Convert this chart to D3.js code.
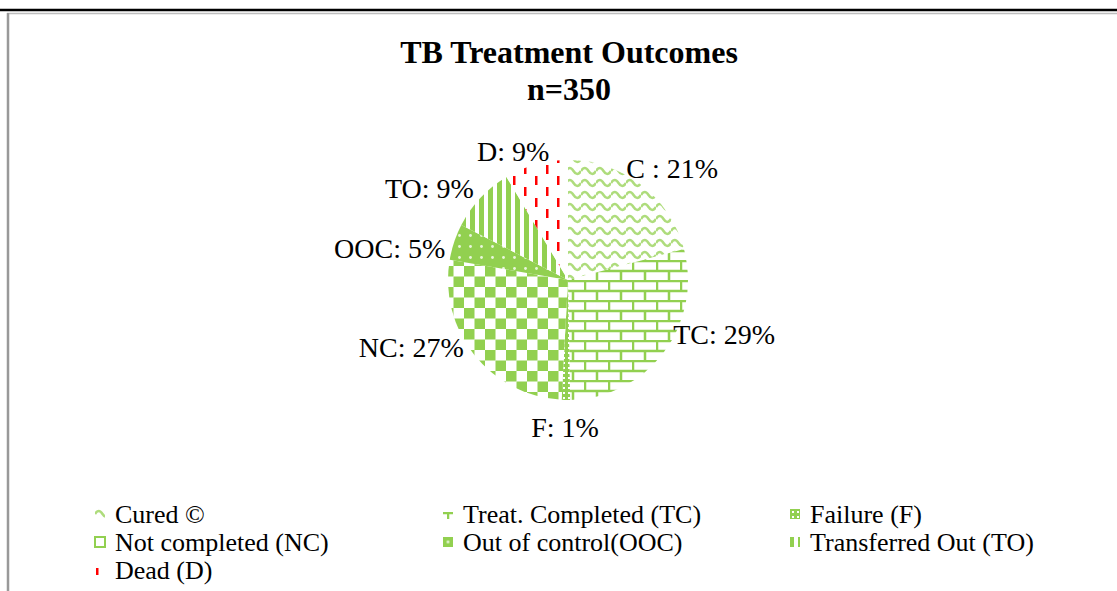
<!DOCTYPE html>
<html>
<head>
<meta charset="utf-8">
<script src="https://cdn.jsdelivr.net/npm/d3@7"></script>
<style>
  body { margin: 0; background: #fff; }
  text { font-family: "Liberation Serif", "Times New Roman", serif; }
</style>
</head>
<body>
<div id="chart"></div>
<script>
// TB treatment outcomes, n = 350
var categories = ["Cured ©", "Treat. Completed (TC)", "Failure (F)", "Not completed (NC)",
                  "Out of control(OOC)", "Transferred Out (TO)", "Dead (D)"];
var shortNames = ["C ", "TC", "F", "NC", "OOC", "TO", "D"];
var counts = [73, 101, 4, 94, 17, 31, 30];
var total = 350;

var width = 1117,
    height = 591;

var cx = 568, cy = 280, radius = 120;
var green = "#92d050", red = "#ff0000";

// fill pattern per slice, plus how the legend swatch lines up with it
var patternTypes = ["wave", "brick", "dots", "checker", "spots", "stripes", "dashes"];
var legendShift = [[0, -2], [4, 3], [0, 0], [0, 0], [-0.5, -0.5], [-1, 0], [-3, 2]];
// label tweaks: angle nudge in degrees and distance from the rim (Excel moved a few)
var labelNudge = [0, -13, 0, 10, -6, -5, -5];
var labelGap = [5, 0, 12, 6, 7, 12, 1];

var svg = d3.select("#chart").append("svg")
    .attr("width", width)
    .attr("height", height);

// page frame bits
svg.append("line").attr("x1", 0).attr("x2", width).attr("y1", 10).attr("y2", 10)
    .attr("stroke", "#000").attr("stroke-width", 2.5);
svg.append("line").attr("x1", 7).attr("x2", width).attr("y1", 13.5).attr("y2", 13.5)
    .attr("stroke", "#bdbdbd").attr("stroke-width", 1.5);
svg.append("line").attr("x1", 8).attr("x2", 8).attr("y1", 13).attr("y2", height)
    .attr("stroke", "#999").attr("stroke-width", 2.5);

var defs = svg.append("defs");

function makePattern(id, type, tx, ty) {
    var sizes = { wave: [15, 12], brick: [24, 20], dots: [5, 5], checker: [21, 21],
                  spots: [11, 11], stripes: [9, 9], dashes: [22, 22] };
    var w = sizes[type][0], h = sizes[type][1];
    var p = defs.append("pattern")
        .attr("id", id)
        .attr("patternUnits", "userSpaceOnUse")
        .attr("width", w).attr("height", h)
        .attr("patternTransform", "translate(" + tx + "," + ty + ")");

    var bg = (type == "dots" || type == "spots") ? green : "#fff";
    p.append("rect").attr("width", w).attr("height", h).attr("fill", bg);

    if (type == "wave") {
        p.append("path").attr("d", "M0,7 Q3.75,1 7.5,7 T15,7")
            .attr("fill", "none").attr("stroke", green)
            .attr("stroke-opacity", 0.75).attr("stroke-width", 2.5);
    } else if (type == "brick") {
        p.append("path").attr("d", "M0,1 H24 M0,11 H24 M1,1 V11 M13,11 V21")
            .attr("fill", "none").attr("stroke", green).attr("stroke-width", 2.5);
    } else if (type == "dots") {
        p.append("rect").attr("x", 2).attr("y", 2).attr("width", 2).attr("height", 2).attr("fill", "#fff");
    } else if (type == "checker") {
        p.append("rect").attr("width", 10.5).attr("height", 10.5).attr("fill", green);
        p.append("rect").attr("x", 10.5).attr("y", 10.5).attr("width", 10.5).attr("height", 10.5).attr("fill", green);
    } else if (type == "spots") {
        p.append("circle").attr("cx", 5.5).attr("cy", 5.5).attr("r", 1.4)
            .attr("fill", "#fff").attr("fill-opacity", 0.8);
    } else if (type == "stripes") {
        p.append("rect").attr("width", 5).attr("height", 9).attr("fill", green);
    } else if (type == "dashes") {
        p.append("rect").attr("x", 4).attr("y", 1).attr("width", 2.5).attr("height", 9).attr("fill", red);
        p.append("rect").attr("x", 15).attr("y", 12).attr("width", 2.5).attr("height", 9).attr("fill", red);
    }
    return "url(#" + id + ")";
}

// title
var title = svg.append("text")
    .attr("text-anchor", "middle")
    .attr("font-weight", "bold").attr("font-size", 32);
title.append("tspan").attr("x", 569).attr("y", 63).text("TB Treatment Outcomes");
title.append("tspan").attr("x", 569).attr("y", 100).text("n=" + total);

// pie
var pie = d3.pie().sort(null).value(function(d) { return d; });
var arcs = pie(counts);

var arc = d3.arc().innerRadius(0).outerRadius(radius);

var g = svg.append("g").attr("transform", "translate(" + cx + "," + cy + ")");

var sliceFills = patternTypes.map(function(t, i) {
    return makePattern("pie-" + i, t, cx, cy);
});

g.selectAll("path.slice")
    .data(arcs)
  .enter().append("path")
    .attr("class", "slice")
    .attr("d", arc)
    .attr("fill", function(d, i) { return sliceFills[i]; });

// data labels, outside end of each slice
var fontSize = 28;
g.selectAll("text.lbl")
    .data(arcs)
  .enter().append("text")
    .attr("class", "lbl")
    .attr("font-size", fontSize)
    .attr("text-anchor", "middle")
    .text(function(d, i) { return shortNames[i] + ": " + Math.round(d.value / total * 100) + "%"; })
    .each(function(d, i) {
        var a = (d.startAngle + d.endAngle) / 2 + labelNudge[i] * Math.PI / 180;
        var dx = Math.sin(a), dy = -Math.cos(a);
        var w = this.getComputedTextLength(), h = fontSize * 1.1;
        var r = radius + labelGap[i];
        var px = r * dx + dx * w / 2;
        var py = r * dy + dy * h / 2;
        d3.select(this).attr("x", px).attr("y", py + fontSize * 0.33);
    });

// legend, three columns
var colX = [95, 443, 790], rowY0 = 514, rowStep = 28, box = 10;
var legend = svg.selectAll("g.legend")
    .data(categories)
  .enter().append("g")
    .attr("class", "legend");

legend.append("rect")
    .attr("x", function(d, i) { return colX[i % 3]; })
    .attr("y", function(d, i) { return rowY0 + Math.floor(i / 3) * rowStep - box / 2; })
    .attr("width", box).attr("height", box)
    .attr("fill", function(d, i) {
        if (patternTypes[i] == "checker") return "#fff";
        var x0 = colX[i % 3], y0 = rowY0 + Math.floor(i / 3) * rowStep - box / 2;
        return makePattern("lg-" + i, patternTypes[i], x0 + legendShift[i][0], y0 + legendShift[i][1]);
    })
    .attr("stroke", function(d, i) { return patternTypes[i] == "checker" ? green : "none"; })
    .attr("stroke-width", 2);

legend.append("text")
    .attr("x", function(d, i) { return colX[i % 3] + 20; })
    .attr("y", function(d, i) { return rowY0 + Math.floor(i / 3) * rowStep + 9; })
    .attr("font-size", 26)
    .text(function(d) { return d; });
</script>
</body>
</html>
